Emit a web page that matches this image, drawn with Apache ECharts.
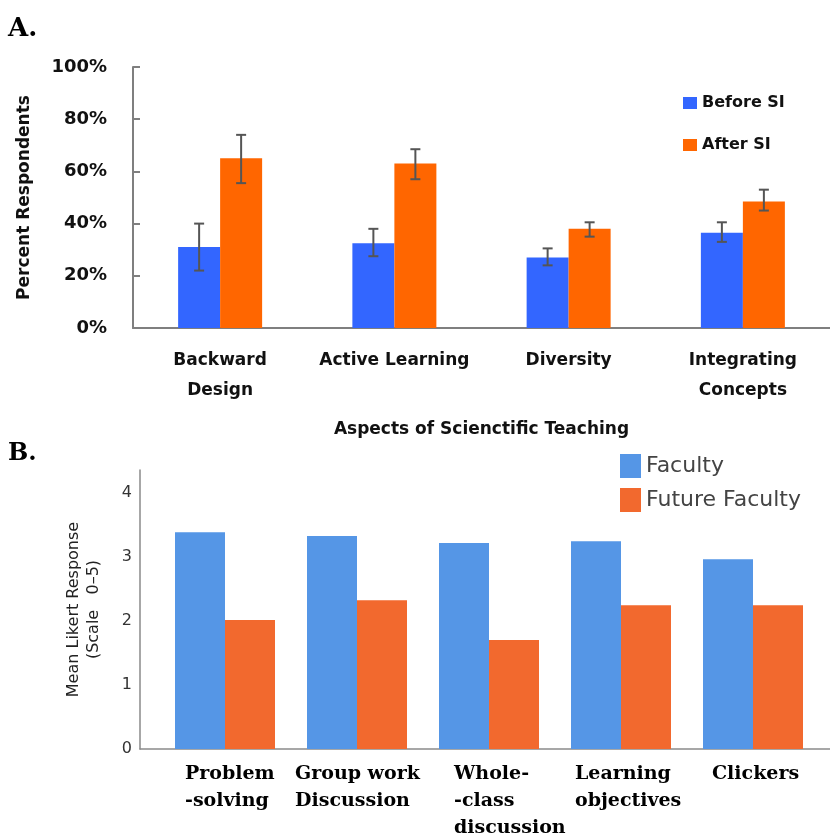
<!DOCTYPE html>
<html><head><meta charset="utf-8">
<script src="https://cdn.jsdelivr.net/npm/echarts@6/dist/echarts.min.js"></script>
<style>html,body{margin:0;padding:0;background:#fff}#c{width:830px;height:839px}</style>
</head><body><div id="c"></div>
<script>
// ---- Panel A data ----
const categoriesA = ['Backward\nDesign', 'Active Learning', 'Diversity', 'Integrating\nConcepts'];
const beforeSI = [31, 32.5, 27, 36.5];
const afterSI = [65, 63, 38, 48.5];
const beforeErrLow = [22, 27.5, 24, 33];
const beforeErrHigh = [40, 38, 30.5, 40.5];
const afterErrLow = [55.5, 57, 35, 45];
const afterErrHigh = [74, 68.5, 40.5, 53];
const ticksA = [0, 20, 40, 60, 80, 100];

// ---- Panel B data ----
const categoriesB = ['Problem\n-solving', 'Group work\nDiscussion', 'Whole-\n-class\ndiscussion', 'Learning\nobjectives', 'Clickers'];
const faculty = [3.38, 3.32, 3.21, 3.24, 2.96];
const futureFaculty = [2.01, 2.32, 1.70, 2.24, 2.24];
const ticksB = [0, 1, 2, 3, 4];

const sansA = '"DejaVu Sans", sans-serif';
const sansB = '"DejaVu Sans", sans-serif';
const serifB = '"DejaVu Serif", serif';
const labelWidthsB = [80, 124, 70, 92, 82];

function errSeries(name, lows, highs, offset) {
  return {
    type: 'custom', name: name, xAxisIndex: 0, yAxisIndex: 0, z: 5,
    data: lows.map((l, i) => [i, l, highs[i]]),
    encode: { x: 0, y: [1, 2] },
    renderItem: function (params, api) {
      const i = api.value(0);
      const lo = api.coord([i, api.value(1)]);
      const hi = api.coord([i, api.value(2)]);
      const x = lo[0] + offset;
      const cap = 5;
      const st = { stroke: '#555', lineWidth: 2 };
      return { type: 'group', children: [
        { type: 'line', shape: { x1: x, y1: lo[1], x2: x, y2: hi[1] }, style: st },
        { type: 'line', shape: { x1: x - cap, y1: lo[1], x2: x + cap, y2: lo[1] }, style: st },
        { type: 'line', shape: { x1: x - cap, y1: hi[1], x2: x + cap, y2: hi[1] }, style: st }
      ]};
    }
  };
}

const richB = {};
labelWidthsB.forEach((w, i) => {
  richB['c' + i] = { width: w, align: 'left', fontFamily: serifB, fontWeight: 'bold', fontSize: 19, color: '#000', lineHeight: 27 };
});

const option = {
  animation: false,
  title: [
    { text: 'A.', left: 8, top: 16, padding: 0, textStyle: { fontFamily: serifB, fontWeight: 'bold', fontSize: 26, color: '#000' } },
    { text: 'B.', left: 8, top: 442, padding: 0, textStyle: { fontFamily: serifB, fontWeight: 'bold', fontSize: 24, color: '#000' } }
  ],
  legend: [
    { data: ['Before SI', 'After SI'], left: 683, top: 95, padding: 0, orient: 'vertical', itemWidth: 14, itemHeight: 12, itemGap: 26,
      icon: 'rect', textStyle: { fontFamily: sansA, fontWeight: 'bold', fontSize: 16, color: '#111' } },
    { data: ['Faculty', 'Future Faculty'], left: 620, top: 454, padding: 0, orient: 'vertical', itemWidth: 21, itemHeight: 24, itemGap: 10,
      icon: 'rect', textStyle: { fontFamily: sansB, fontSize: 22, color: '#444' } }
  ],
  grid: [
    { left: 133, top: 67, width: 704, height: 261 },
    { left: 159, top: 470, width: 660, height: 279 },
    { left: 140, top: 470, width: 690, height: 279 }
  ],
  xAxis: [
    { gridIndex: 0, type: 'category', data: categoriesA,
      axisLine: { lineStyle: { color: '#7f7f7f', width: 2 } }, axisTick: { show: false },
      axisLabel: { fontFamily: sansA, fontWeight: 'bold', fontSize: 17, color: '#111', lineHeight: 30, margin: 18, interval: 0 },
      name: 'Aspects of Scienctific Teaching', nameLocation: 'middle', nameGap: 93,
      nameTextStyle: { fontFamily: sansA, fontWeight: 'bold', fontSize: 17, color: '#111' } },
    { gridIndex: 1, type: 'category', data: categoriesB,
      axisLine: { show: false }, axisTick: { show: false },
      axisLabel: { interval: 0, margin: 12, align: 'center',
        formatter: function (v, idx) { return v.split('\n').map(l => '{c' + idx + '|' + l + '}').join('\n'); },
        rich: richB } },
    { gridIndex: 2, type: 'value', min: 0, max: 1,
      axisLine: { show: true, lineStyle: { color: '#8a8a8a', width: 1.5 } }, axisTick: { show: false },
      axisLabel: { show: false }, splitLine: { show: false } }
  ],
  yAxis: [
    { gridIndex: 0, type: 'value', min: ticksA[0], max: ticksA[ticksA.length - 1], interval: 20,
      axisLine: { show: true, lineStyle: { color: '#7f7f7f', width: 2 } },
      axisTick: { show: true, inside: true, length: 7, lineStyle: { color: '#7f7f7f', width: 2 } },
      splitLine: { show: false },
      axisLabel: { formatter: '{value}%', fontFamily: sansA, fontWeight: 'bold', fontSize: 18, color: '#111', margin: 26 },
      name: 'Percent Respondents', nameLocation: 'middle', nameGap: 100,
      nameTextStyle: { fontFamily: sansA, fontWeight: 'bold', fontSize: 17, color: '#111' } },
    { gridIndex: 1, type: 'value', min: 0, max: 4.35, show: false, splitLine: { show: false } },
    { gridIndex: 2, type: 'value', min: 0, max: 4.35, interval: 1,
      axisLine: { show: true, lineStyle: { color: '#8a8a8a', width: 1.5 } }, axisTick: { show: false },
      splitLine: { show: false },
      axisLabel: { fontFamily: sansB, fontSize: 16, color: '#333', margin: 8,
        formatter: function (v) { return ticksB.indexOf(v) >= 0 ? String(v) : ''; } },
      name: 'Mean Likert Response\n(Scale   0–5)', nameLocation: 'middle', nameGap: 36,
      nameTextStyle: { fontFamily: sansB, fontSize: 16, color: '#222', lineHeight: 20 } }
  ],
  series: [
    { name: 'Before SI', type: 'bar', xAxisIndex: 0, yAxisIndex: 0, data: beforeSI, barWidth: 42, barGap: '0%',
      itemStyle: { color: '#3366FF' } },
    { name: 'After SI', type: 'bar', xAxisIndex: 0, yAxisIndex: 0, data: afterSI, barWidth: 42, barGap: '0%',
      itemStyle: { color: '#FF6600' } },
    errSeries('errBefore', beforeErrLow, beforeErrHigh, -21),
    errSeries('errAfter', afterErrLow, afterErrHigh, 21),
    { name: 'Faculty', type: 'bar', xAxisIndex: 1, yAxisIndex: 1, data: faculty, barWidth: 50, barGap: '0%',
      itemStyle: { color: '#5596E6' } },
    { name: 'Future Faculty', type: 'bar', xAxisIndex: 1, yAxisIndex: 1, data: futureFaculty, barWidth: 50, barGap: '0%',
      itemStyle: { color: '#F2692E' } }
  ]
};
echarts.init(document.getElementById('c')).setOption(option);
</script>
</body></html>
